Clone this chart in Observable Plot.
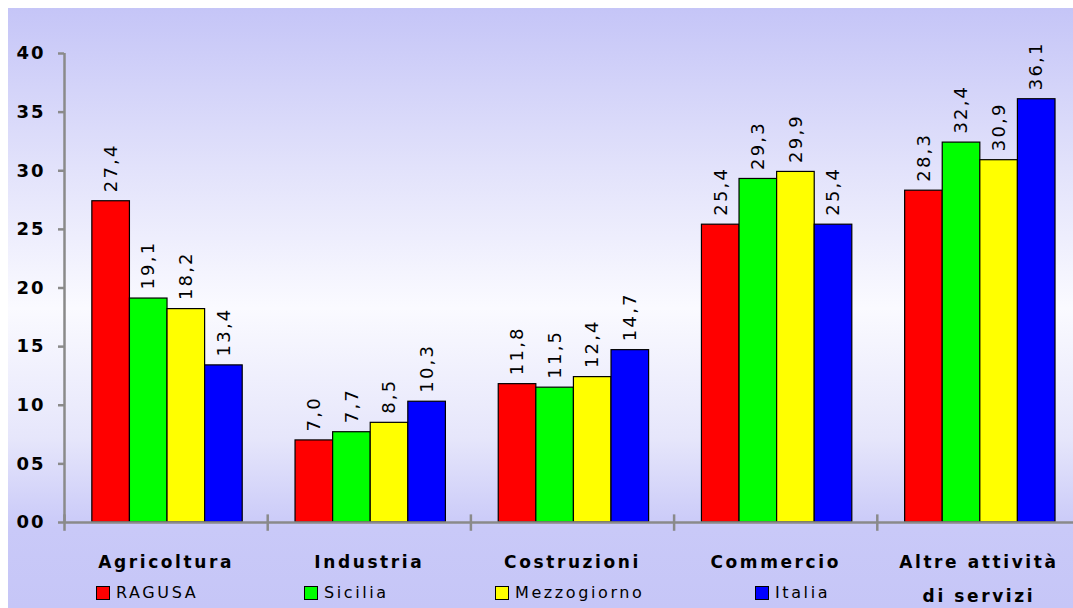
<!DOCTYPE html>
<html>
<head>
<meta charset="utf-8">
<script src="https://cdn.jsdelivr.net/npm/d3@7"></script>
<script src="https://cdn.jsdelivr.net/npm/@observablehq/plot@0.6"></script>
<style>
  html, body { margin: 0; padding: 0; background: #fff; }
  #wrap { position: relative; width: 1073px; height: 608px; overflow: hidden; background: #fff; }
  #bg { position: absolute; left: 8px; top: 8px; width: 1065px; height: 600px;
        background: linear-gradient(to bottom, #c5c5f7 0px, #e2e2fb 160px, #fafaff 300px, #e6e6fb 430px, #c9c9f8 520px, #c6c6f7 600px); }
  #chart { position: absolute; left: 0; top: 0; }
  #chart svg { background: transparent; }
  g[aria-description="values"] text { letter-spacing: 2.2px; }
  g[aria-description="categories"] text { letter-spacing: 2.6px; }
  g[aria-label="y-axis tick label"] text { letter-spacing: 2px; }
  #legend { position: absolute; left: 0; top: 0; width: 1073px; height: 608px; pointer-events: none;
            font-family: "DejaVu Sans", sans-serif; font-size: 16px; letter-spacing: 2.6px; color: #000; }
  .item { position: absolute; top: 583px; display: flex; align-items: center; white-space: nowrap; }
  .sw { width: 12px; height: 12px; border: 1.5px solid #000; margin-right: 6px; box-sizing: content-box; }
</style>
</head>
<body>
<div id="wrap">
  <div id="bg"></div>
  <div id="chart"></div>
  <div id="legend"></div>
</div>
<script>
// ---- data ----
const categories = ["Agricoltura", "Industria", "Costruzioni", "Commercio", "Altre attività\ndi servizi"];
const series = ["RAGUSA", "Sicilia", "Mezzogiorno", "Italia"];
const seriesColors = ["#ff0000", "#00ff00", "#ffff00", "#0000ff"];
const ragusa      = [27.4, 7.0, 11.8, 25.4, 28.3];
const sicilia     = [19.1, 7.7, 11.5, 29.3, 32.4];
const mezzogiorno = [18.2, 8.5, 12.4, 29.9, 30.9];
const italia      = [13.4, 10.3, 14.7, 25.4, 36.1];
const yTicks = [0, 5, 10, 15, 20, 25, 30, 35, 40];

const seriesValues = [ragusa, sicilia, mezzogiorno, italia];
const rows = [];
categories.forEach((c, ci) => {
  series.forEach((s, si) => {
    rows.push({category: c, ci, series: s, si, value: seriesValues[si][ci]});
  });
});

// layout within each category slot (in category units)
const groupPad = 0.137;
const barW = 0.185;
const axisColor = "#8a8a8a";
const font = "DejaVu Sans, sans-serif";

const chart = Plot.plot({
  width: 1073,
  height: 608,
  marginTop: 53,
  marginBottom: 86,
  marginLeft: 64,
  marginRight: 0,
  style: {background: "transparent", fontFamily: font, color: "#000"},
  x: {domain: [0, categories.length], range: [64, 1080], axis: null},
  y: {domain: [0, 40]},
  color: {domain: series, range: seriesColors},
  marks: [
    Plot.rectY(rows, {
      x1: d => d.ci + groupPad + d.si * barW,
      x2: d => d.ci + groupPad + (d.si + 1) * barW,
      y: "value",
      fill: "series",
      stroke: "#000",
      strokeWidth: 1.2
    }),
    Plot.text(rows, {
      x: d => d.ci + groupPad + (d.si + 0.5) * barW,
      y: "value",
      text: d => d.value.toFixed(1).replace(".", ","),
      rotate: -90,
      textAnchor: "start",
      lineAnchor: "middle",
      dy: -9,
      fontSize: 18,
      fill: "#000",
      ariaDescription: "values"
    }),
    Plot.ruleX([0], {y1: 0, y2: 40, stroke: axisColor, strokeWidth: 2.5}),
    Plot.ruleY([0], {x1: 0, x2: categories.length, stroke: axisColor, strokeWidth: 2.5}),
    Plot.ruleX(d3.range(categories.length), {y1: -0.75, y2: 0.65, stroke: axisColor, strokeWidth: 2.5}),
    Plot.axisY(yTicks, {
      tickFormat: d => String(d).padStart(2, "0"),
      tickSize: 6,
      tickPadding: 13,
      fontSize: 18,
      fontWeight: "bold",
      stroke: axisColor,
      strokeWidth: 2.5,
      label: null
    }),
    Plot.text(categories, {
      x: (d, i) => i + 0.5,
      frameAnchor: "bottom",
      lineAnchor: "top",
      dy: 21,
      fontSize: 17,
      fontWeight: "bold",
      lineHeight: 2.0,
      fill: "#000",
      ariaDescription: "categories"
    })
  ]
});
document.getElementById("chart").appendChild(chart);

// legend
const legendLeft = [96, 304, 495, 755];
const legend = document.getElementById("legend");
series.forEach((s, i) => {
  const item = document.createElement("div");
  item.className = "item";
  item.style.left = legendLeft[i] + "px";
  const sw = document.createElement("span");
  sw.className = "sw";
  sw.style.background = seriesColors[i];
  const lab = document.createElement("span");
  lab.textContent = s;
  item.appendChild(sw);
  item.appendChild(lab);
  legend.appendChild(item);
});
</script>
</body>
</html>
